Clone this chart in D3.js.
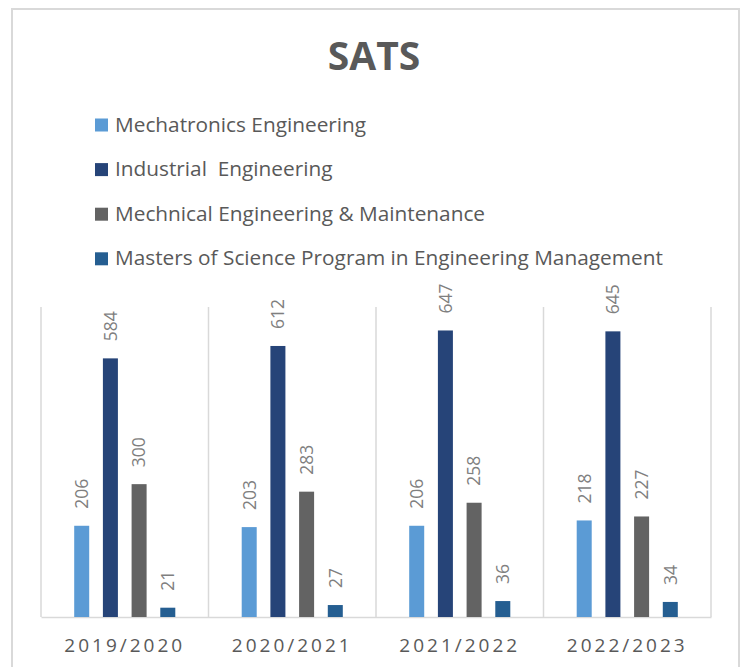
<!DOCTYPE html>
<html>
<head>
<meta charset="utf-8">
<script src="https://cdn.jsdelivr.net/npm/d3@7"></script>
<style>
  body { margin: 0; background: #fff; }
  svg { display: block; font-family: "Open Sans", sans-serif; }
</style>
</head>
<body>
<div class="chart"></div>
<script>
// data
const categories = ["2019/2020", "2020/2021", "2021/2022", "2022/2023"];
const seriesNames = [
  "Mechatronics Engineering",
  "Industrial  Engineering",
  "Mechnical Engineering & Maintenance",
  "Masters of Science Program in Engineering Management"
];
const mechatronics = [206, 203, 206, 218];
const industrial = [584, 612, 647, 645];
const mechanical = [300, 283, 258, 227];
const masters = [21, 27, 36, 34];
const colors = ["#5b9bd5", "#264478", "#636363", "#255e91"];

const seriesValues = [mechatronics, industrial, mechanical, masters];

const W = 744, H = 667;
const plot = { left: 41, right: 711, top: 307, bottom: 617 };

const svg = d3.select(".chart").append("svg")
  .attr("width", W)
  .attr("height", H);

// outer frame
svg.append("rect")
  .attr("x", 12).attr("y", 9)
  .attr("width", 727).attr("height", 700)
  .attr("fill", "#fff")
  .attr("stroke", "#d9d9d9")
  .attr("stroke-width", 2);

// title
svg.append("text")
  .attr("x", 374).attr("y", 70)
  .attr("text-anchor", "middle")
  .attr("font-size", 39)
  .attr("font-weight", "bold")
  .attr("fill", "#595959")
  .text("SATS");

// legend
const legend = svg.append("g").selectAll("g")
  .data(seriesNames)
  .join("g")
  .attr("transform", (d, i) => `translate(95,${131.5 + i * 44.6})`);
legend.append("rect")
  .attr("x", 0).attr("y", -13)
  .attr("width", 13).attr("height", 13)
  .attr("fill", (d, i) => colors[i]);
legend.append("text")
  .attr("x", 20).attr("y", 0)
  .attr("font-size", 20.8)
  .attr("fill", "#595959")
  .style("white-space", "pre")
  .text(d => d);

// scales
const x0 = d3.scaleBand().domain(categories).range([plot.left, plot.right]).padding(0);
const x1 = d3.scaleBand().domain(d3.range(seriesNames.length))
  .range([0, x0.bandwidth()])
  .paddingInner(0.477).paddingOuter(1.157);
const y = d3.scaleLinear().domain([0, 700]).range([plot.bottom, plot.top]);

// vertical grid lines between categories
const gridX = categories.map(c => x0(c)).concat([plot.right]);
svg.append("g").selectAll("line")
  .data(gridX)
  .join("line")
  .attr("x1", d => d).attr("x2", d => d)
  .attr("y1", plot.top).attr("y2", plot.bottom)
  .attr("stroke", "#d9d9d9")
  .attr("stroke-width", 1.5);

// baseline axis
const xAxis = d3.axisBottom(x0).tickSize(0).tickPadding(0);
const axisG = svg.append("g")
  .attr("transform", `translate(0,${plot.bottom})`)
  .call(xAxis);
axisG.select(".domain").attr("stroke", "#d9d9d9").attr("stroke-width", 1.5);
axisG.selectAll(".tick text")
  .attr("y", 34.5)
  .attr("dy", null)
  .attr("font-family", "Open Sans, sans-serif")
  .attr("font-size", 19)
  .attr("fill", "#595959")
  .style("letter-spacing", "3px");

// bars
const groups = svg.append("g").selectAll("g")
  .data(categories)
  .join("g")
  .attr("transform", d => `translate(${x0(d)},0)`);

const cells = groups.selectAll("g")
  .data((c, ci) => seriesValues.map((vals, si) => ({ si, v: vals[ci] })))
  .join("g");

cells.append("rect")
  .attr("x", d => x1(d.si))
  .attr("width", x1.bandwidth())
  .attr("y", d => y(d.v))
  .attr("height", d => y(0) - y(d.v))
  .attr("fill", d => colors[d.si]);

cells.append("text")
  .attr("transform", d => `translate(${x1(d.si) + x1.bandwidth() / 2},${y(d.v) - 17}) rotate(-90)`)
  .attr("dy", "0.36em")
  .attr("font-size", 17.5)
  .attr("fill", "#7f7f7f")
  .text(d => d.v);
</script>
</body>
</html>
